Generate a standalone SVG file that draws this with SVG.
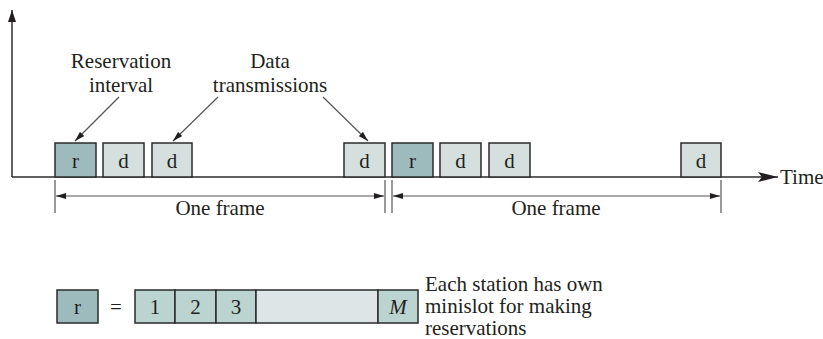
<svg xmlns="http://www.w3.org/2000/svg" width="823" height="339" viewBox="0 0 823 339" font-family="'Liberation Serif', 'DejaVu Serif', 'Times New Roman', serif">
<defs>
<style>
text{font-family:'Liberation Serif','DejaVu Serif','Times New Roman',serif;font-size:21px;fill:#231f20}
.c{text-anchor:middle}
.r{fill:#9dbbbd;stroke:#2b2b2b;stroke-width:1.5}
.d{fill:#d5e0de;stroke:#2b2b2b;stroke-width:1.5}
.s{fill:#bcd4cf;stroke:#2b2b2b;stroke-width:1.5}
.e{fill:#dde5e7;stroke:#2b2b2b;stroke-width:1.5}
.ln{stroke:#2b2b2b;stroke-width:1.5;fill:none}
.tn{stroke:#555;stroke-width:1.2;fill:none}
</style>
<marker id="ah" viewBox="0 0 12 8" refX="12" refY="4" markerWidth="12" markerHeight="8" markerUnits="userSpaceOnUse" orient="auto"><path d="M0,0 L12,4 L0,8 Z" fill="#231f20"/></marker>
<marker id="as" viewBox="0 0 10 6" refX="10" refY="3" markerWidth="10" markerHeight="6" markerUnits="userSpaceOnUse" orient="auto"><path d="M0,0 L10,3 L0,6 Z" fill="#231f20"/></marker>
<marker id="ab" viewBox="0 0 20 10" refX="20" refY="5" markerWidth="20" markerHeight="10" markerUnits="userSpaceOnUse" orient="auto"><path d="M0,0 L20,5 L0,10 L4,5 Z" fill="#231f20"/></marker>
</defs>
<g id="connectors">
<line class="ln" x1="12" y1="177" x2="12" y2="10" marker-end="url(#ah)"/>
<line class="ln" x1="12" y1="177" x2="778" y2="177" marker-end="url(#ab)"/>
<line class="tn" x1="55" y1="180" x2="55" y2="213"/>
<line class="tn" x1="385" y1="180" x2="385" y2="213"/>
<line class="tn" x1="392" y1="180" x2="392" y2="213"/>
<line class="tn" x1="721" y1="180" x2="721" y2="213"/>
<line class="tn" x1="220" y1="196" x2="56" y2="196" marker-end="url(#as)"/>
<line class="tn" x1="220" y1="196" x2="384" y2="196" marker-end="url(#as)"/>
<line class="tn" x1="556" y1="196" x2="393" y2="196" marker-end="url(#as)"/>
<line class="tn" x1="556" y1="196" x2="720" y2="196" marker-end="url(#as)"/>
<line class="tn" x1="119" y1="97" x2="75" y2="141" marker-end="url(#as)"/>
<line class="tn" x1="218" y1="97" x2="173" y2="141" marker-end="url(#as)"/>
<line class="tn" x1="323" y1="97" x2="368" y2="141" marker-end="url(#as)"/>
</g>
<g id="label-reservation"><text class="c" x="121" y="68">Reservation</text><text class="c" x="121" y="92">interval</text></g>
<g id="label-data"><text class="c" x="270" y="68">Data</text><text class="c" x="270" y="92">transmissions</text></g>
<g id="f1-r"><rect class="r" x="55" y="143" width="41" height="34"/><text class="c" x="75.5" y="168">r</text></g>
<g id="f1-d1"><rect class="d" x="103" y="143" width="41" height="34"/><text class="c" x="123.5" y="168">d</text></g>
<g id="f1-d2"><rect class="d" x="152" y="143" width="40" height="34"/><text class="c" x="172" y="168">d</text></g>
<g id="f1-d3"><rect class="d" x="344" y="143" width="41" height="34"/><text class="c" x="364.5" y="168">d</text></g>
<g id="f2-r"><rect class="r" x="392" y="143" width="41" height="34"/><text class="c" x="412.5" y="168">r</text></g>
<g id="f2-d1"><rect class="d" x="440" y="143" width="41" height="34"/><text class="c" x="460.5" y="168">d</text></g>
<g id="f2-d2"><rect class="d" x="489" y="143" width="41" height="34"/><text class="c" x="509.5" y="168">d</text></g>
<g id="f2-d3"><rect class="d" x="681" y="143" width="40" height="34"/><text class="c" x="701" y="168">d</text></g>
<g id="label-time"><text x="780" y="184">Time</text></g>
<g id="label-frame1"><text class="c" x="220" y="215">One frame</text></g>
<g id="label-frame2"><text class="c" x="556" y="215">One frame</text></g>
<g id="legend-r"><rect class="r" x="57" y="290" width="41" height="33"/><text class="c" x="77.5" y="314">r</text></g>
<g id="legend-eq"><text class="c" x="116" y="314">=</text></g>
<g id="minislots">
<rect class="s" x="135" y="290" width="40" height="33"/><text class="c" x="155" y="314">1</text>
<rect class="s" x="175" y="290" width="41" height="33"/><text class="c" x="195.5" y="314">2</text>
<rect class="s" x="216" y="290" width="40" height="33"/><text class="c" x="236" y="314">3</text>
<rect class="e" x="256" y="290" width="122" height="33"/>
<rect class="s" x="378" y="290" width="40" height="33"/><text class="c" x="398" y="314" font-style="italic">M</text>
</g>
<g id="legend-note"><text x="425" y="291">Each station has own</text><text x="425" y="313">minislot for making</text><text x="425" y="335">reservations</text></g>
</svg>
